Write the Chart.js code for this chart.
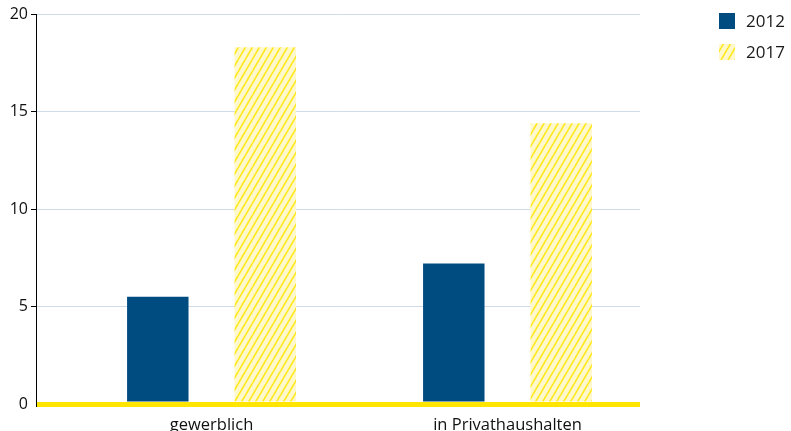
<!DOCTYPE html>
<html>
<head>
<meta charset="utf-8">
<script src="https://cdn.jsdelivr.net/npm/chart.js@4/dist/chart.umd.min.js"></script>
<style>
html,body{margin:0;padding:0;background:#fff;}
#wrap{position:relative;width:791px;height:431px;}
</style>
</head>
<body>
<div id="wrap"><canvas id="c" width="791" height="431"></canvas></div>
<script>
const categories = ['gewerblich', 'in Privathaushalten'];
const seriesNames = ['2012', '2017'];
const values2012 = [5.5, 7.2];
const values2017 = [18.3, 14.4];
const yTicks = [0, 5, 10, 15, 20];

const NAVY = '#004c80';
const YELLOW = '#ffe500';
const FONT = "'Open Sans', sans-serif";

function hatch() {
  const t = document.createElement('canvas');
  t.width = 7; t.height = 12;
  const g = t.getContext('2d');
  g.fillStyle = '#fff8cc';
  g.fillRect(0, 0, 7, 12);
  g.strokeStyle = '#ffe81a';
  g.lineWidth = 1.6;
  for (const off of [-7, 0, 7]) {
    g.beginPath();
    g.moveTo(off, 12);
    g.lineTo(off + 7, 0);
    g.stroke();
  }
  return g.createPattern(t, 'repeat');
}
const pattern = hatch();

const legendPlugin = {
  id: 'sideLegend',
  afterDraw(chart) {
    const ctx = chart.ctx;
    ctx.save();
    chart.data.datasets.forEach((ds, i) => {
      const y = 13 + i * 31;
      ctx.fillStyle = ds.backgroundColor;
      ctx.fillRect(719, y, 16, 16);
      ctx.fillStyle = '#1a1a1a';
      ctx.font = '17px ' + FONT;
      ctx.textBaseline = 'middle';
      ctx.textAlign = 'left';
      ctx.fillText(ds.label, 746, y + 9);
    });
    ctx.restore();
  }
};

new Chart(document.getElementById('c'), {
  type: 'bar',
  data: {
    datasets: [
      { label: seriesNames[0], data: categories.map((c, i) => ({ x: i, y: values2012[i] })), backgroundColor: NAVY, borderWidth: 0 },
      { label: seriesNames[1], data: categories.map((c, i) => ({ x: i, y: values2017[i] })), backgroundColor: pattern, borderWidth: 0 }
    ]
  },
  options: {
    responsive: false,
    animation: false,
    layout: { padding: { top: 14, right: 151, left: 0, bottom: 0 } },
    plugins: { legend: { display: false }, tooltip: { enabled: false } },
    datasets: { bar: { categoryPercentage: 0.726, barPercentage: 0.572 } },
    scales: {
      x: {
        type: 'linear',
        offset: false,
        min: -0.593,
        max: 1.4476,
        afterBuildTicks(s) { s.ticks = categories.map((c, i) => ({ value: i })); },
        afterFit(s) { s.height = 27; },
        grid: { display: false, drawTicks: false, offset: false },
        border: { display: false },
        ticks: {
          padding: 11,
          color: '#111',
          font: { family: FONT, size: 16.5 },
          maxRotation: 0,
          autoSkip: false,
          callback: (v) => categories[v] ?? ''
        }
      },
      y: {
        min: 0,
        max: 20,
        afterBuildTicks(s) { s.ticks = yTicks.map(v => ({ value: v })); },
        afterFit(s) { s.width = 36; },
        border: { display: true, color: '#000', width: 1 },
        grid: {
          color: (ctx) => ctx.tick && ctx.tick.value === 0 ? YELLOW : '#cfdbe6',
          lineWidth: (ctx) => ctx.tick && ctx.tick.value === 0 ? 5 : 1,
          tickColor: (ctx) => ctx.tick && ctx.tick.value === 0 ? 'rgba(0,0,0,0)' : '#000',
          tickLength: 5,
          drawTicks: true
        },
        ticks: {
          padding: 3,
          color: '#111',
          font: { family: FONT, size: 16 }
        }
      }
    }
  },
  plugins: [legendPlugin]
});
</script>
</body>
</html>
